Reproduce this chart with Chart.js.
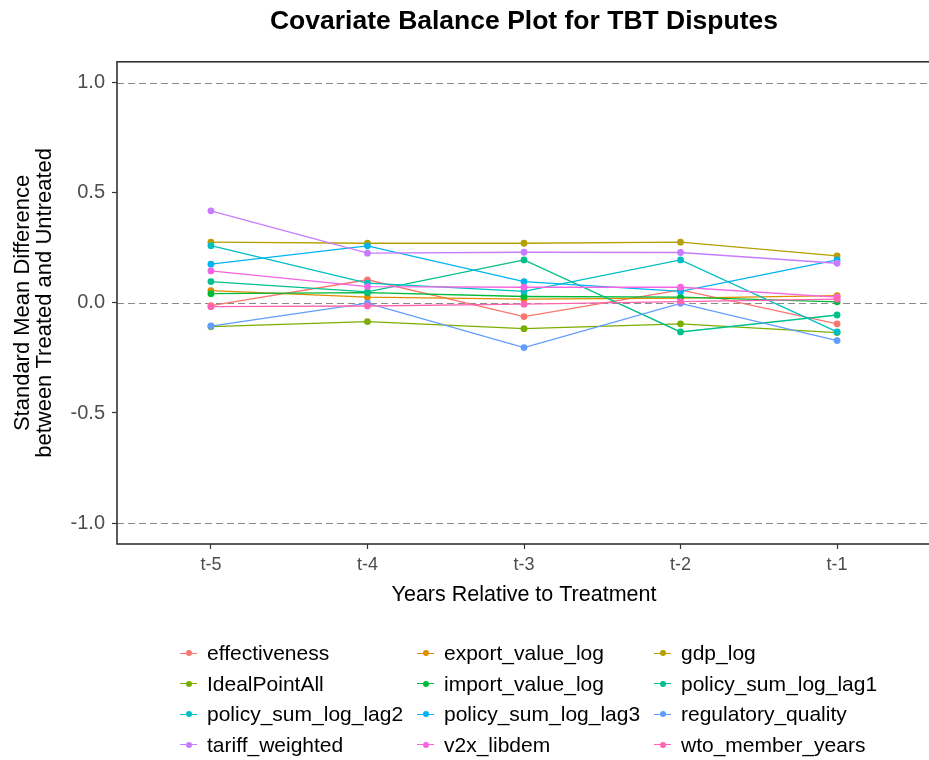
<!DOCTYPE html>
<html>
<head>
<meta charset="utf-8">
<script src="https://cdn.jsdelivr.net/npm/chart.js@4"></script>
<style>
  html, body { margin: 0; padding: 0; background: #fff; overflow: hidden; }
  #wrap { position: relative; width: 935px; height: 760px; }
  #legend { position: absolute; left: 180px; top: 638px; font-family: 'Liberation Sans', Arial, sans-serif; font-size: 21px; color: #000; }
  .row { display: flex; height: 30.5px; align-items: center; }
  .item { width: 237px; display: flex; align-items: center; }
  .key { position: relative; width: 17px; height: 8px; margin-right: 10px; }
  .key .ln { position: absolute; left: 0; top: 3.4px; width: 17px; height: 1.3px; }
  .key .dt { position: absolute; left: 5.5px; top: 1px; width: 6px; height: 6px; border-radius: 50%; }
</style>
</head>
<body>
<div id="wrap">
  <canvas id="chart" width="935" height="760"></canvas>
  <div id="legend"></div>
</div>
<script>
// Dados
const periods = ['t-5', 't-4', 't-3', 't-2', 't-1'];
const xPos = [0, 1, 2, 3, 4];
const yTicks = [-1.0, -0.5, 0.0, 0.5, 1.0];
const refLines = [1.0, 0.0, -1.0];

const covariates = [
  'effectiveness', 'export_value_log', 'gdp_log', 'IdealPointAll',
  'import_value_log', 'policy_sum_log_lag1', 'policy_sum_log_lag2', 'policy_sum_log_lag3',
  'regulatory_quality', 'tariff_weighted', 'v2x_libdem', 'wto_member_years'
];
const colors = [
  '#F8766D', '#DE8C00', '#B79F00', '#7CAE00',
  '#00BA38', '#00C08B', '#00BFC4', '#00B4F0',
  '#619CFF', '#C77CFF', '#F564E3', '#FF64B0'
];

const effectiveness      = [-0.012, 0.105, -0.062, 0.059, -0.095];
const export_value_log   = [0.056, 0.026, 0.017, 0.022, 0.033];
const gdp_log            = [0.276, 0.271, 0.271, 0.276, 0.214];
const IdealPointAll      = [-0.108, -0.085, -0.117, -0.095, -0.135];
const import_value_log   = [0.042, 0.047, 0.029, 0.026, 0.005];
const policy_lag1        = [0.097, 0.050, 0.195, -0.132, -0.055];
const policy_lag2        = [0.260, 0.090, 0.052, 0.195, -0.132];
const policy_lag3        = [0.176, 0.259, 0.097, 0.052, 0.195];
const regulatory_quality = [-0.105, -0.001, -0.203, -0.002, -0.171];
const tariff_weighted    = [0.418, 0.226, 0.230, 0.229, 0.180];
const v2x_libdem         = [0.145, 0.074, 0.071, 0.071, 0.026];
const wto_member_years   = [-0.017, -0.014, -0.006, 0.006, 0.017];

const seriesValues = [
  effectiveness, export_value_log, gdp_log, IdealPointAll,
  import_value_log, policy_lag1, policy_lag2, policy_lag3,
  regulatory_quality, tariff_weighted, v2x_libdem, wto_member_years
];

const FONT = "'Liberation Sans', Arial, sans-serif";

// linhas tracejadas + moldura do painel
const panelPlugin = {
  id: 'panel',
  beforeDatasetsDraw(chart) {
    const { ctx, chartArea, scales } = chart;
    ctx.save();
    ctx.strokeStyle = '#8a8a8a';
    ctx.lineWidth = 1.2;
    ctx.setLineDash([7, 4]);
    refLines.forEach(v => {
      const y = Math.round(scales.y.getPixelForValue(v)) + 0.5;
      ctx.beginPath();
      ctx.moveTo(chartArea.left, y);
      ctx.lineTo(chartArea.right, y);
      ctx.stroke();
    });
    ctx.restore();
  },
  afterDraw(chart) {
    const { ctx, chartArea } = chart;
    ctx.save();
    ctx.strokeStyle = '#333333';
    ctx.lineWidth = 1.6;
    ctx.strokeRect(chartArea.left, chartArea.top, chartArea.right - chartArea.left, chartArea.bottom - chartArea.top);
    ctx.restore();
  }
};

const datasets = covariates.map((name, i) => ({
  label: name,
  data: seriesValues[i].map((v, j) => ({ x: xPos[j], y: v })),
  borderColor: colors[i],
  backgroundColor: colors[i],
  pointBackgroundColor: colors[i],
  pointBorderWidth: 0,
  pointRadius: 3.4,
  borderWidth: 1.3,
  tension: 0,
  order: covariates.length - i
}));

new Chart(document.getElementById('chart').getContext('2d'), {
  type: 'line',
  data: { datasets: datasets },
  options: {
    responsive: false,
    animation: false,
    layout: { padding: { left: 0, right: 3, top: 0, bottom: 0 } },
    plugins: {
      legend: { display: false },
      tooltip: { enabled: false },
      title: {
        display: true,
        fullSize: false,
        text: 'Covariate Balance Plot for TBT Disputes',
        color: '#000',
        font: { family: FONT, size: 26.5, weight: 'bold', lineHeight: 1.2 },
        padding: { top: 6, bottom: 24 }
      }
    },
    scales: {
      x: {
        type: 'linear',
        min: -0.6,
        max: 4.6,
        afterFit(scale) { scale.height = 216; },
        afterBuildTicks(scale) { scale.ticks = xPos.map(v => ({ value: v })); },
        ticks: {
          callback: v => periods[v],
          color: '#4D4D4D',
          font: { family: FONT, size: 18 },
          padding: 5,
          maxRotation: 0
        },
        grid: { drawOnChartArea: false, drawTicks: true, tickLength: 5, tickColor: '#333', tickWidth: 1.2 },
        border: { display: false },
        title: {
          display: true,
          text: 'Years Relative to Treatment',
          color: '#000',
          font: { family: FONT, size: 21.5, lineHeight: 1.2 },
          padding: { top: 0, bottom: 152 }
        }
      },
      y: {
        min: -1.095,
        max: 1.095,
        afterFit(scale) { scale.width = 117; },
        afterBuildTicks(scale) { scale.ticks = yTicks.map(v => ({ value: v })); },
        ticks: {
          callback: v => v.toFixed(1),
          color: '#4D4D4D',
          font: { family: FONT, size: 20 },
          padding: 7
        },
        grid: { drawOnChartArea: false, drawTicks: true, tickLength: 5, tickColor: '#333', tickWidth: 1.2 },
        border: { display: false },
        title: {
          display: true,
          text: ['Standard Mean Difference', 'between Treated and Untreated'],
          color: '#000',
          font: { family: FONT, size: 22, lineHeight: 1.0 },
          padding: { top: 12, bottom: 0 }
        }
      }
    }
  },
  plugins: [panelPlugin]
});

// Legenda (3 colunas, preenchida por linha)
const legendEl = document.getElementById('legend');
for (let r = 0; r < covariates.length / 3; r++) {
  const row = document.createElement('div');
  row.className = 'row';
  for (let c = 0; c < 3; c++) {
    const i = r * 3 + c;
    const item = document.createElement('div');
    item.className = 'item';
    item.innerHTML = `<span class="key"><span class="ln" style="background:${colors[i]}"></span><span class="dt" style="background:${colors[i]}"></span></span><span>${covariates[i]}</span>`;
    row.appendChild(item);
  }
  legendEl.appendChild(row);
}
</script>
</body>
</html>
